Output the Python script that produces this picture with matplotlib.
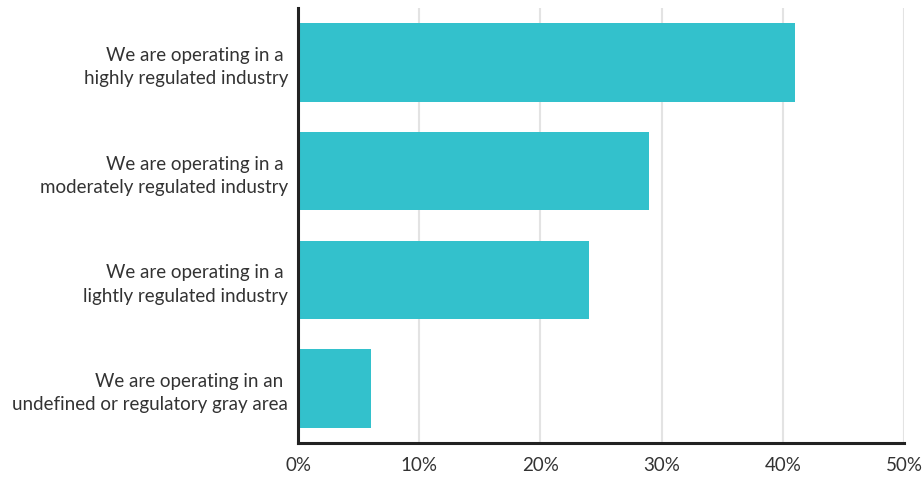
import matplotlib
matplotlib.use("Agg")
import matplotlib.pyplot as plt
from matplotlib.ticker import FuncFormatter

categories = [
    "We are operating in a \nhighly regulated industry",
    "We are operating in a \nmoderately regulated industry",
    "We are operating in a \nlightly regulated industry",
    "We are operating in an \nundefined or regulatory gray area",
]
values = [41, 29, 24, 6]
x_ticks = [0, 10, 20, 30, 40, 50]

plt.rcParams["font.family"] = ["Lato", "DejaVu Sans"]

fig = plt.figure(figsize=(9.23, 4.78), dpi=100)
ax = fig.add_axes([298 / 923, 1 - 443 / 478, (904 - 298) / 923, (443 - 8) / 478])

pos = list(range(len(categories)))
ax.barh(pos, values, height=0.72, color="#33C1CC", zorder=3)

ax.set_ylim(3.5, -0.5)
ax.set_xlim(0, 50)
ax.set_xticks(x_ticks)
ax.xaxis.set_major_formatter(FuncFormatter(lambda v, _: f"{v:.0f}%"))
ax.set_yticks(pos)
ax.set_yticklabels(categories, ha="right", multialignment="right", linespacing=1.45)

ax.grid(axis="x", color="#e3e3e3", linewidth=1.5, zorder=0)
ax.tick_params(axis="both", length=0, labelsize=13.5, colors="#333333")
ax.tick_params(axis="x", pad=10)
ax.tick_params(axis="y", pad=7)

for side in ("top", "right"):
    ax.spines[side].set_visible(False)
for side in ("left", "bottom"):
    ax.spines[side].set_color("#222222")
    ax.spines[side].set_linewidth(2.2)
    ax.spines[side].set_zorder(4)

fig.savefig("out.png", dpi=100)
